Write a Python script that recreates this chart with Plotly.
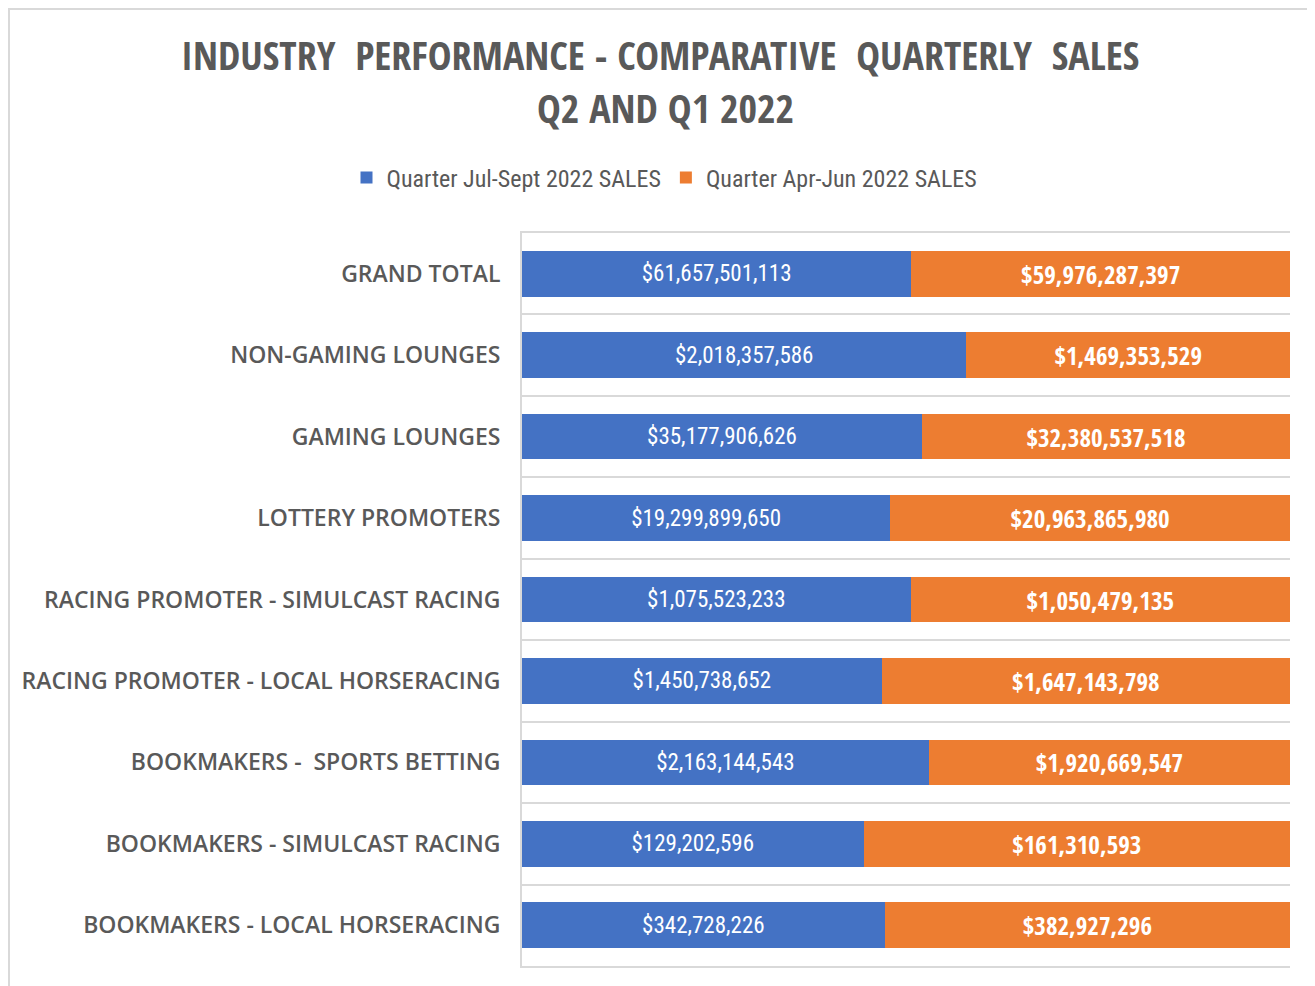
import plotly.graph_objects as go

categories = [
    "GRAND TOTAL",
    "NON-GAMING LOUNGES",
    "GAMING LOUNGES",
    "LOTTERY PROMOTERS",
    "RACING PROMOTER - SIMULCAST RACING",
    "RACING PROMOTER - LOCAL HORSERACING",
    "BOOKMAKERS -  SPORTS BETTING",
    "BOOKMAKERS - SIMULCAST RACING",
    "BOOKMAKERS - LOCAL HORSERACING",
]
q3_sales = [61657501113, 2018357586, 35177906626, 19299899650, 1075523233,
            1450738652, 2163144543, 129202596, 342728226]
q2_sales = [59976287397, 1469353529, 32380537518, 20963865980, 1050479135,
            1647143798, 1920669547, 161310593, 382927296]
series_names = ["Quarter Jul-Sept 2022 SALES", "Quarter Apr-Jun 2022 SALES"]
title_lines = ["INDUSTRY  PERFORMANCE - COMPARATIVE  QUARTERLY  SALES", "Q2 AND Q1 2022"]

BLUE = "#4472C4"
ORANGE = "#ED7D31"
GRAY = "#595959"
LINE = "#D9D9D9"
COND_B = "Open Sans Condensed, Roboto Condensed, sans-serif"
COND_R = "Roboto Condensed, Open Sans Condensed, sans-serif"

# the page body adds an 8px offset, so figure coords = page coords - 8
W, H = 1307, 978
L, R, T, B = 514, 1282, 225, 958


def px_x(p):
    return (p - L) / (R - L)


def px_y(p):
    return (B - p) / (B - T)


fig = go.Figure()
fig.add_trace(go.Bar(
    y=categories, x=q3_sales, orientation="h", name=series_names[0],
    marker=dict(color=BLUE, line=dict(width=0)),
    text=[f"${v:,}" for v in q3_sales], textposition="inside",
    insidetextanchor="middle", textangle=0,
    textfont=dict(color="white", size=23, family=COND_R, weight="normal"),
    hoverinfo="skip",
))
fig.add_trace(go.Bar(
    y=categories, x=q2_sales, orientation="h", name=series_names[1],
    marker=dict(color=ORANGE, line=dict(width=0)),
    text=[f"${v:,}" for v in q2_sales], textposition="inside",
    insidetextanchor="middle", textangle=0,
    textfont=dict(color="white", size=25, family=COND_B, weight="bold"),
    hoverinfo="skip",
))

fig.update_layout(
    width=W, height=H,
    margin=dict(l=L, r=W - R, t=T, b=H - B, autoexpand=False),
    barmode="stack", barnorm="percent", bargap=0.44,
    paper_bgcolor="white", plot_bgcolor="white",
    legend=dict(
        orientation="h", xref="container", yref="container",
        x=656.5 / W, y=1 - 170 / H, xanchor="center", yanchor="middle",
        font=dict(family=COND_R, size=24, color=GRAY, weight="normal"),
        itemwidth=30, traceorder="normal",
    ),
    xaxis=dict(range=[0, 100], showticklabels=False, showgrid=False,
               zeroline=False, showline=True, mirror=True, linecolor=LINE,
               linewidth=2, ticks="", fixedrange=True),
    yaxis=dict(autorange="reversed", tickson="boundaries", showgrid=True,
               gridcolor=LINE, gridwidth=2, showline=True,
               linecolor=LINE, linewidth=2, ticks="", ticklen=0,
               tickfont=dict(family="Open Sans, sans-serif", size=23,
                             color=GRAY, weight=600),
               ticklabelstandoff=15),
    showlegend=True,
)

fig.add_annotation(
    text=title_lines[0], xref="paper", yref="paper",
    x=px_x(652), y=px_y(47), showarrow=False, xanchor="center", yanchor="middle",
    font=dict(family=COND_B, size=40, color=GRAY, weight="bold"),
)
fig.add_annotation(
    text=title_lines[1], xref="paper", yref="paper",
    x=px_x(657), y=px_y(99), showarrow=False, xanchor="center", yanchor="middle",
    font=dict(family=COND_B, size=40, color=GRAY, weight="bold"),
)

# outer chart-area border
fig.add_shape(
    type="rect", xref="paper", yref="paper", layer="below",
    x0=px_x(1), x1=px_x(1305), y0=px_y(H + 5), y1=px_y(1),
    line=dict(color=LINE, width=2), fillcolor="rgba(0,0,0,0)",
)

fig.write_html("out.html")
